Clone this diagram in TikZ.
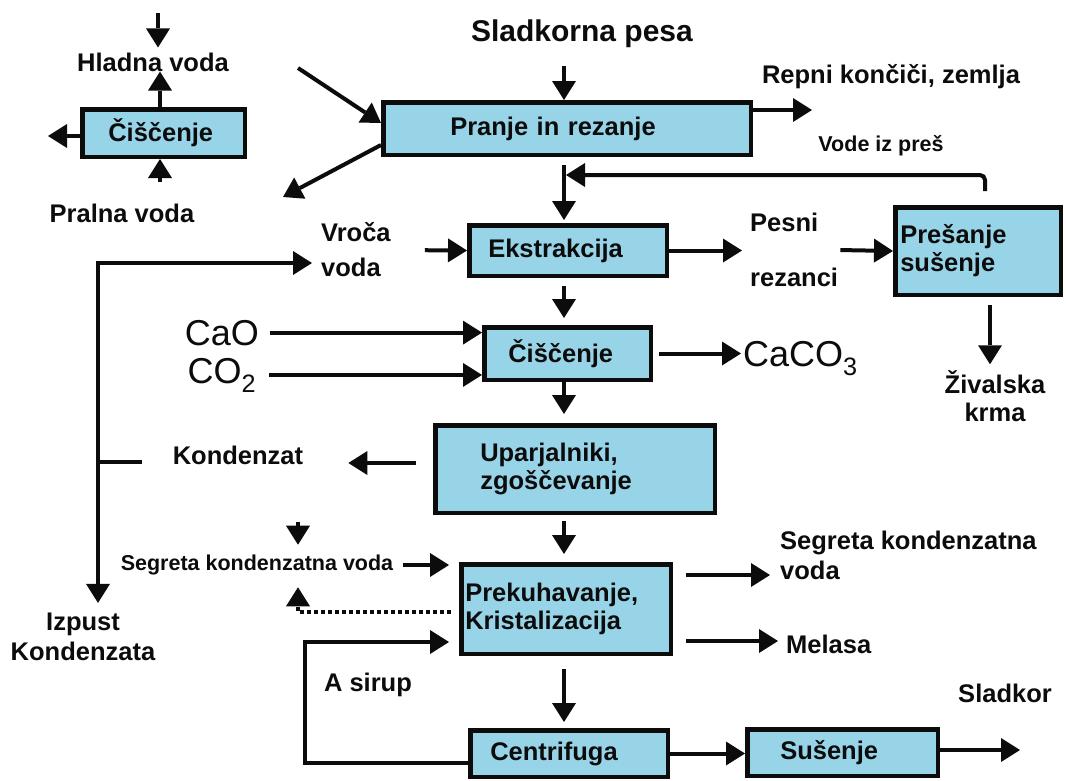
\documentclass[tikz,border=0pt]{standalone}
\usepackage{fontspec}
\setmainfont{Liberation Sans}
\usetikzlibrary{arrows.meta}
\definecolor{procfill}{RGB}{152,212,232}
\definecolor{procband}{RGB}{205,224,229}
\definecolor{ink}{RGB}{12,12,12}
\newcommand\lblfont{\bfseries\fontsize{25.5}{28}\selectfont}
\newcommand\lblsmall{\bfseries\fontsize{21.5}{24}\selectfont}
\newcommand\lblbig{\bfseries\fontsize{30}{33}\selectfont}
\newcommand\chemfont{\fontsize{36}{40}\selectfont}
\begin{document}
\begin{tikzpicture}[x=1pt,y=-1pt,
  every node/.style={text=ink},
  proc/.style n args={4}{draw=ink, line width=4.5pt, fill=procfill, font=\lblfont,
     minimum width=#1, minimum height=#2, inner xsep=#3, inner ysep=0pt,
     text width=#4, align=left,
     append after command={\pgfextra{\draw[procband,line width=1.5pt]
        ([shift={(3.3pt,-3.3pt)}]\tikzlastnode.north west) rectangle
        ([shift={(-3.3pt,3.3pt)}]\tikzlastnode.south east);}}},
  lbl/.style={inner sep=0pt, font=\lblfont},
  tip/.tip={Triangle[length=19pt,width=24pt,line width=0pt]},
  flow/.style={draw=ink, line width=4pt, -tip},
  pipe/.style={draw=ink, line width=4pt},
  dotflow/.style={flow, dash pattern=on 4pt off 3pt},
]
\useasboundingbox[fill=white] (0,0) rectangle (1066,780);

% process boxes
\node[proc={162.5pt}{47.5pt}{26pt}{110.5pt}] (clean) at (163.5,133) {Čiščenje};
\node[proc={367.5pt}{52.5pt}{67pt}{233.5pt}] (wash) at (567,128.5) {Pranje in rezanje};
\node[proc={197.5pt}{50.5pt}{19pt}{159.5pt}] (extr) at (568,250.5) {Ekstrakcija};
\node[proc={166.5pt}{52.5pt}{24pt}{118.5pt}] (purif) at (567.5,353.5) {Čiščenje};
\node[proc={279.5pt}{87.5pt}{45pt}{189.5pt}] (evap) at (575,469) {Uparjalniki,\\zgoščevanje};
\node[proc={209.5pt}{89.5pt}{4pt}{201.5pt}] (cryst) at (566,609) {Prekuhavanje,\\Kristalizacija};
\node[proc={197.5pt}{46.5pt}{20pt}{157.5pt}] (centr) at (569,753.5) {Centrifuga};
\node[proc={190.5pt}{46.5pt}{33pt}{124.5pt}] (dry) at (842.5,752.5) {Sušenje};
\node[proc={165.5pt}{87.5pt}{5pt}{155.5pt}] (press) at (978,251) {Prešanje\\sušenje};

% stream labels
\node[lbl] (hladna) at (153,62) {Hladna voda};
\node[lbl] (pralna) at (122,213) {Pralna voda};
\node[lbl, font=\lblbig] (sladk) at (582,34) {Sladkorna pesa};
\node[lbl] (repni) at (891,77) {Repni končiči, zemlja};
\node[lbl, font=\lblsmall] (vode) at (881,146) {Vode iz preš};
\node[lbl, align=left, anchor=west, font=\bfseries\fontsize{25.5}{35}\selectfont] (vroca) at (321,250) {Vroča\\voda};
\node[lbl, align=left, anchor=west] (pesni) at (750,250) {Pesni\\[27pt]rezanci};
\node[lbl, align=center] (ziv) at (995,396) {Živalska\\krma};
\node[inner sep=0pt, font=\chemfont, anchor=base] (cao) at (222,345) {CaO};
\node[inner sep=0pt, font=\chemfont, anchor=base] (co2) at (222,383) {CO\textsubscript{2}};
\node[inner sep=0pt, font=\chemfont, anchor=base west] (caco3) at (743,366) {CaCO\textsubscript{3}};
\node[lbl] (kond) at (238,455) {Kondenzat};
\node[lbl, font=\lblsmall] (segs) at (257,565) {Segreta kondenzatna voda};
\node[lbl, align=center, font=\bfseries\fontsize{25.5}{30}\selectfont] (izpust) at (83,637) {Izpust\\Kondenzata};
\node[lbl, align=left, anchor=west, font=\bfseries\fontsize{25.5}{30}\selectfont] (segr) at (780,555) {Segreta kondenzatna\\voda};
\node[lbl, anchor=west] (melasa) at (786,644) {Melasa};
\node[lbl] (sladkor) at (1005,693) {Sladkor};
\node[lbl] (asirup) at (368,685) {A sirup};

% free ends of streams
\coordinate (col) at (564,0);
\coordinate (cwin) at (158,13);
\coordinate (cwout) at (48,136);
\coordinate (pwin) at (160,182);
\coordinate (beetin) at (298,68);
\coordinate (washout) at (283,197);
\coordinate (tails) at (812,110);
\coordinate (fbend) at (566,175);
\coordinate (split) at (98,462);
\coordinate (sdtop) at (298,522);
\coordinate (asx) at (305,700);
\coordinate (sugar) at (1020,750);

% water cleaning loop
\draw[flow, shorten >=5pt] (cwin) -- (cwin |- hladna.north);
\draw[flow] ([xshift=-3.5pt]clean.north) -- ([xshift=-3.5pt]clean.north |- hladna.south);
\draw[flow] ([yshift=-3pt]clean.west) -- (cwout);
\draw[flow] (pwin) -- (pwin |- clean.south);

% washing and slicing
\draw[flow] (beetin) -- ([yshift=5.5pt]wash.west);
\draw[flow] ([yshift=-16.5pt]wash.west) -- (washout);
\draw[flow, shorten <=18pt] (sladk.south -| col) -- (wash.north -| col);
\draw[flow] ([yshift=18.5pt]wash.east) -- (tails);
\draw[flow, shorten <=8pt, shorten >=3pt] (wash.south -| col) -- (extr.north -| col);

% press water returned to extraction
\draw[flow, rounded corners=5pt, shorten <=14pt] ([xshift=7pt]press.north) |- (fbend);

% extraction
\draw[flow, shorten <=34pt] (vroca.east) -- (extr.west);
\draw[flow, shorten >=8pt] (extr.east) -- (extr.east -| pesni.west);
\draw[flow, shorten <=2pt] (pesni.east) -- (press.west);
\draw[flow, shorten <=8pt, shorten >=6pt] ([xshift=12pt]press.south) -- ([xshift=12pt]press.south |- ziv.north);
\draw[flow, shorten <=8pt, shorten >=7pt] (extr.south -| col) -- (purif.north -| col);

% juice purification
\draw[flow, shorten <=11pt] (cao.east) -- (cao.east -| purif.west);
\draw[flow, shorten <=13pt] (co2.east) -- (co2.east -| purif.west);
\draw[flow, shorten <=6pt, shorten >=2pt] (purif.east) -- (purif.east -| caco3.west);
\draw[flow, shorten >=9pt] (purif.south -| col) -- (evap.north -| col);

% evaporation and condensate
\draw[flow, shorten <=17pt, shorten >=45pt] ([yshift=6pt]evap.west) -- ([yshift=6pt]evap.west -| kond.east);
\draw[pipe, shorten <=31pt] (kond.west |- split) -- (split);
\draw[flow, shorten >=9pt] (split) |- ([yshift=-13pt]vroca.west);
\draw[flow, shorten >=10pt] (split) -- (split |- izpust.north);
\draw[flow, shorten <=6pt, shorten >=8pt] (evap.south -| col) -- (cryst.north -| col);

% boiling and crystallisation
\draw[flow, shorten >=10pt] (sdtop) -- (sdtop |- segs.north);
\draw[flow, shorten <=10pt, shorten >=10pt] (segs.east) -- (segs.east -| cryst.west);
\draw[dotflow, shorten <=8pt, shorten >=12pt] ([yshift=-3pt]cryst.west) -| (sdtop |- segs.south);
\draw[flow, shorten >=10pt] ([yshift=-9.5pt]centr.west) -| (asx) |- ([yshift=-33pt]cryst.west);
\draw[flow, shorten <=13pt, shorten >=10pt] ([yshift=34pt]cryst.east) -- ([yshift=34pt]cryst.east -| segr.west);
\draw[flow, shorten <=13pt, shorten >=8pt] ([yshift=-32pt]cryst.east) -- ([yshift=-32pt]cryst.east -| melasa.west);
\draw[flow, shorten <=13pt, shorten >=6pt] (cryst.south -| col) -- (centr.north -| col);

% centrifuge and drying
\draw[flow] (centr.east) -- (centr.east -| dry.west);
\draw[flow] ([yshift=2.5pt]dry.east) -- (sugar);
\end{tikzpicture}
\end{document}
